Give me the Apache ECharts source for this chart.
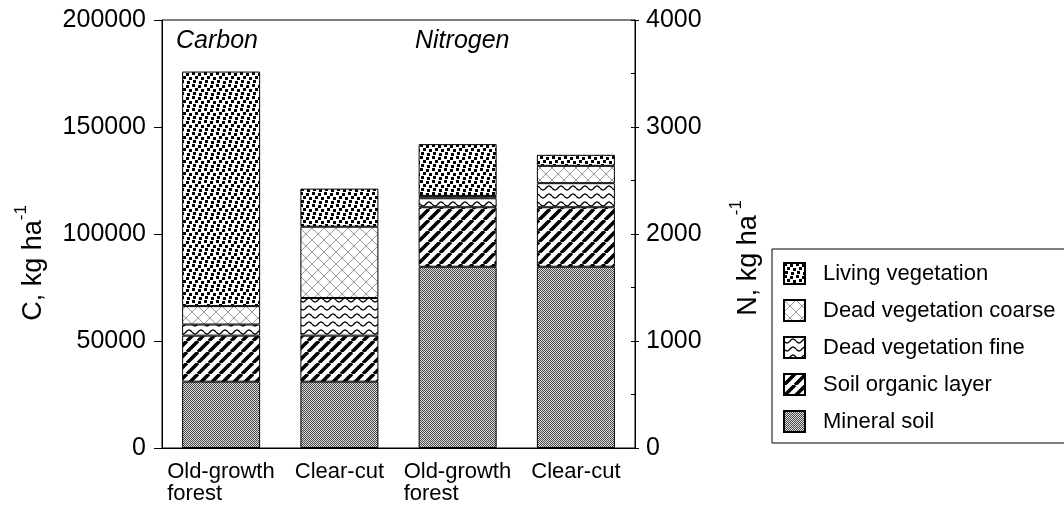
<!DOCTYPE html>
<html>
<head>
<meta charset="utf-8">
<script src="https://cdn.jsdelivr.net/npm/echarts@6/dist/echarts.min.js"></script>
<style>
html,body{margin:0;padding:0;background:#fff;}
#chart{width:1064px;height:510px;}
</style>
</head>
<body>
<div id="chart"></div>
<script>
// ---- data ----
const categories = ['Old-growth forest', 'Clear-cut', 'Old-growth forest', 'Clear-cut'];
const components = ['Living vegetation', 'Dead vegetation coarse', 'Dead vegetation fine', 'Soil organic layer', 'Mineral soil'];
// values in component order (kg/ha)
const carbonOldGrowth   = [109600, 8600, 5200, 21500, 31000];
const carbonClearCut    = [17800, 33300, 17600, 21500, 31000];
const nitrogenOldGrowth = [484, 22, 84, 556, 1694];
const nitrogenClearCut  = [103, 162, 225, 556, 1694];
const carbonTicks   = [0, 50000, 100000, 150000, 200000];
const nitrogenTicks = [0, 1000, 2000, 3000, 4000];
const panelLabels = ['Carbon', 'Nitrogen'];
const axisTitles = ['C, kg ha', 'N, kg ha'];

// ---- patterns ----
function tile(w, h, draw) {
  const c = document.createElement('canvas');
  c.width = w; c.height = h;
  const g = c.getContext('2d');
  g.fillStyle = '#fff'; g.fillRect(0, 0, w, h);
  draw(g, w, h);
  return { image: c, repeat: 'repeat' };
}
const patterns = {
  'Living vegetation': tile(12, 12, (g) => {
    g.fillStyle = '#000';
    [[0,0],[6,1],[3,4],[9,5],[1,8],[7,9]].forEach(([x,y]) => g.fillRect(x, y, 3, 3));
  }),
  'Dead vegetation coarse': tile(12, 12, (g) => {
    g.strokeStyle = '#9a9a9a'; g.lineWidth = 1;
    g.beginPath();
    g.moveTo(0, 0); g.lineTo(12, 12);
    g.moveTo(0, 12); g.lineTo(12, 0);
    g.stroke();
  }),
  'Dead vegetation fine': tile(12, 8, (g) => {
    g.strokeStyle = '#000'; g.lineWidth = 1.3;
    g.beginPath();
    for (let x = 0; x <= 12; x += 0.5) {
      const y = 4 + 2 * Math.sin(x / 12 * 2 * Math.PI);
      if (x === 0) g.moveTo(x, y); else g.lineTo(x, y);
    }
    g.stroke();
  }),
  'Soil organic layer': tile(11, 11, (g, w) => {
    g.strokeStyle = '#000'; g.lineWidth = 3.6;
    g.beginPath();
    for (let k = -1; k <= 1; k++) { g.moveTo(k * w, w); g.lineTo(k * w + w, 0); }
    g.stroke();
  }),
  'Mineral soil': tile(2, 2, (g) => {
    g.fillStyle = '#dcdcdc'; g.fillRect(0, 0, 2, 2);
    g.fillStyle = '#4a4a4a'; g.fillRect(0, 0, 1, 1); g.fillRect(1, 1, 1, 1);
  })
};

const FONT = 'Liberation Sans, Arial, sans-serif';

// ---- series (bottom to top) ----
const series = [];
for (let i = components.length - 1; i >= 0; i--) {
  const name = components[i];
  const style = { color: patterns[name], borderColor: '#000', borderWidth: 1 };
  series.push({
    name, type: 'bar', stack: 'C', yAxisIndex: 0, barWidth: 78, barGap: '-100%',
    itemStyle: style,
    data: [carbonOldGrowth[i], carbonClearCut[i], '-', '-']
  });
  series.push({
    name, type: 'bar', stack: 'N', yAxisIndex: 1, barWidth: 78, barGap: '-100%',
    itemStyle: style,
    data: ['-', '-', nitrogenOldGrowth[i], nitrogenClearCut[i]]
  });
}

const titleRich = {
  a: { fontSize: 27, fontFamily: FONT, fill: '#000', lineHeight: 34, verticalAlign: 'bottom' },
  s: { fontSize: 17, fontFamily: FONT, fill: '#000', verticalAlign: 'top' }
};

const chart = echarts.init(document.getElementById('chart'), null, { renderer: 'canvas' });
chart.setOption({
  animation: false,
  backgroundColor: '#fff',
  textStyle: { fontFamily: FONT, color: '#000' },
  grid: { left: 162, right: 429, top: 20, bottom: 62, show: true, borderColor: '#000', borderWidth: 1, backgroundColor: 'transparent' },
  legend: {
    orient: 'vertical', left: 772, top: 249,
    data: components,
    icon: 'rect',
    itemWidth: 21, itemHeight: 21, itemGap: 14,
    padding: [13, 14, 10, 11],
    borderColor: '#000', borderWidth: 1,
    textStyle: { fontFamily: FONT, fontSize: 22, color: '#000', padding: [0, 0, 0, 13] },
    selectedMode: false
  },
  xAxis: {
    type: 'category', data: categories,
    axisLine: { lineStyle: { color: '#000', width: 1 } },
    axisTick: { length: 6, lineStyle: { color: '#000' } },
    axisLabel: {
      interval: 0, margin: 13, color: '#000', fontFamily: FONT, fontSize: 22, lineHeight: 22,
      formatter: (v) => v.startsWith('Old') ? '{l|Old-growth}\n{l|forest}' : v,
      rich: { l: { width: 108, align: 'left', fontSize: 22, fontFamily: FONT, lineHeight: 22, color: '#000' } }
    }
  },
  yAxis: [
    {
      type: 'value', position: 'left', min: carbonTicks[0], max: carbonTicks[carbonTicks.length - 1], interval: 50000,
      splitLine: { show: false },
      axisLine: { show: true, lineStyle: { color: '#000' } },
      axisTick: { show: true, length: 8, lineStyle: { color: '#000' } },
      axisLabel: { margin: 16, color: '#000', fontFamily: FONT, fontSize: 25, formatter: (v) => String(v) }
    },
    {
      type: 'value', position: 'right', min: nitrogenTicks[0], max: nitrogenTicks[nitrogenTicks.length - 1], interval: 1000,
      splitLine: { show: false },
      axisLine: { show: true, lineStyle: { color: '#000' } },
      axisTick: { show: true, length: 4, lineStyle: { color: '#000' } },
      axisLabel: { margin: 11, color: '#000', fontFamily: FONT, fontSize: 25, formatter: (v) => String(v) }
    },
    {
      type: 'value', position: 'right', min: 0, max: 4000, interval: 500,
      splitLine: { show: false },
      axisLine: { show: false },
      axisTick: { show: true, inside: true, length: 4, lineStyle: { color: '#000' } },
      axisLabel: { show: false }
    }
  ],
  graphic: [
    { type: 'text', left: 176, top: 29, style: { text: panelLabels[0], font: 'italic 25px ' + FONT, fill: '#000' } },
    { type: 'text', left: 415, top: 29, style: { text: panelLabels[1], font: 'italic 25px ' + FONT, fill: '#000' } },
    { type: 'text', x: 30, y: 263, rotation: Math.PI / 2,
      style: { text: '{a|' + axisTitles[0] + '}{s|-1}', rich: titleRich, align: 'center', verticalAlign: 'middle' } },
    { type: 'text', x: 745, y: 258, rotation: Math.PI / 2,
      style: { text: '{a|' + axisTitles[1] + '}{s|-1}', rich: titleRich, align: 'center', verticalAlign: 'middle' } }
  ],
  series
});
</script>
</body>
</html>
